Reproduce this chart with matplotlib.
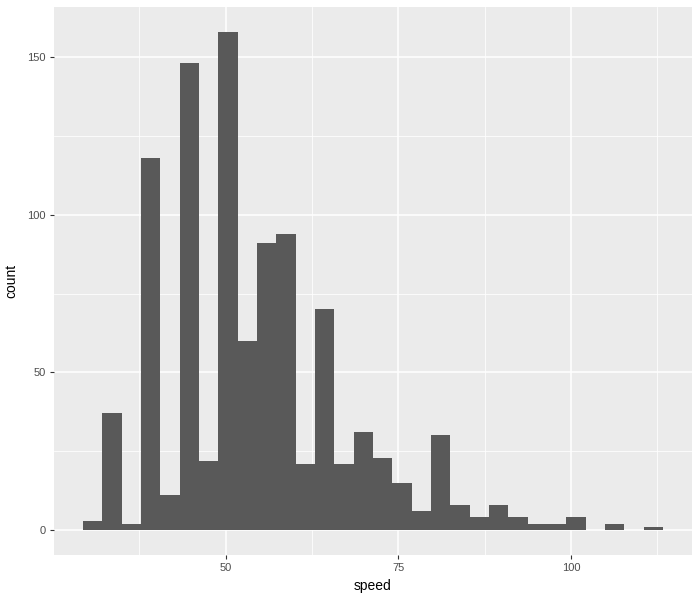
import matplotlib
matplotlib.use('Agg')
import matplotlib.pyplot as plt
import numpy as np

plt.rcParams['font.family'] = ['Liberation Sans', 'DejaVu Sans']

# histogram of speed, 30 bins (counts)
bin_start = 29.33
bin_width = 2.8
counts = [3, 37, 2, 118, 11, 148, 22, 158, 60, 91,
          94, 21, 70, 21, 31, 23, 15, 6, 30, 8,
          4, 8, 4, 2, 2, 4, 0, 2, 0, 1]
x_ticks = [50, 75, 100]
y_ticks = [0, 50, 100, 150]

edges = bin_start + bin_width * np.arange(len(counts) + 1)

fig = plt.figure(figsize=(7, 6), dpi=100)
ax = fig.add_axes([54 / 700, 45 / 600, 638 / 700, 548 / 600])
ax.set_facecolor('#EBEBEB')

ax.bar(edges[:-1], counts, width=bin_width, align='edge',
       color='#595959', linewidth=0, zorder=3)

xr = edges[-1] - edges[0]
ax.set_xlim(edges[0] - 0.05 * xr, edges[-1] + 0.05 * xr)
ymax = max(counts)
ax.set_ylim(-0.05 * ymax, ymax * 1.05)

ax.set_xticks(x_ticks)
ax.set_yticks(y_ticks)
ax.set_xticks([37.5, 62.5, 87.5, 112.5], minor=True)
ax.set_yticks([25, 75, 125], minor=True)
ax.grid(which='major', color='white', linewidth=1.1, zorder=1)
ax.grid(which='minor', color='white', linewidth=0.55, zorder=1)
ax.set_axisbelow(True)

for s in ax.spines.values():
    s.set_visible(False)
ax.tick_params(which='major', length=3, width=0.8, color='#333333',
               labelcolor='#4D4D4D', labelsize=8, pad=3)
ax.tick_params(which='minor', length=0)

ax.set_xlabel('speed', fontsize=10, color='black', labelpad=4)
ax.set_ylabel('count', fontsize=10, color='black', labelpad=6)

fig.savefig('out.png', dpi=100)
